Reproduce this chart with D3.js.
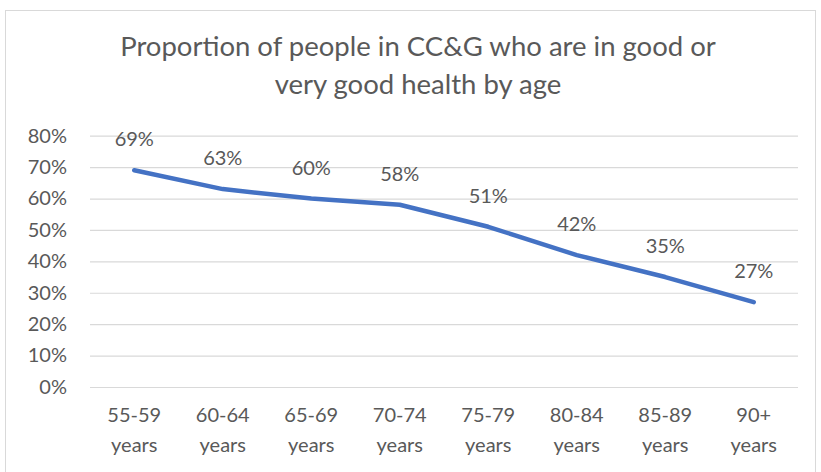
<!DOCTYPE html>
<html><head><meta charset="utf-8">
<script src="https://cdn.jsdelivr.net/npm/d3@7/dist/d3.min.js"></script>
<style>body{margin:0;background:#fff}svg{display:block}</style>
</head><body>
<script>
const categories = ["55-59 years","60-64 years","65-69 years","70-74 years","75-79 years","80-84 years","85-89 years","90+ years"];
const values = [0.69,0.63,0.60,0.58,0.51,0.42,0.35,0.27];
const yTicks = [0,0.1,0.2,0.3,0.4,0.5,0.6,0.7,0.8];
const titleLines = ["Proportion of people in CC&G who are in good or","very good health by age"];

const W=821,H=472;
const font="Lato, 'Open Sans', sans-serif";
const txt="#595959";
const svg=d3.select("body").append("svg").attr("width",W).attr("height",H);
svg.append("rect").attr("x",5.5).attr("y",10.5).attr("width",810).attr("height",470)
  .attr("fill","#fff").attr("stroke","#d9d9d9");

const x=d3.scaleBand().domain(categories).range([90,798]);
const y=d3.scaleLinear().domain([0,0.8]).range([387,135.7]);

svg.append("g").selectAll("text").data(titleLines).join("text")
  .attr("x",418).attr("y",(d,i)=>56+i*38).attr("text-anchor","middle")
  .attr("font-family",font).attr("font-size",27.5).attr("fill",txt).text(d=>d);

const yAxis=svg.append("g").attr("transform","translate(90,0)")
  .call(d3.axisLeft(y).tickValues(yTicks).tickFormat(d3.format(".0%")).tickSize(-(798-90)).tickPadding(23));
yAxis.select(".domain").remove();
yAxis.selectAll(".tick line").attr("stroke","#d9d9d9").attr("stroke-width",1.2);
yAxis.selectAll(".tick text").attr("font-family",font).attr("font-size",20).attr("fill",txt);

const xAxis=svg.append("g").attr("transform","translate(0,387)")
  .call(d3.axisBottom(x).tickSize(0).tickFormat(""));
xAxis.select(".domain").remove();
xAxis.selectAll(".tick").each(function(d){
  const parts=d.split(" ");
  const t=d3.select(this).append("text").attr("font-family",font).attr("font-size",20)
    .attr("fill",txt).attr("text-anchor","middle");
  parts.forEach((p,i)=>t.append("tspan").attr("x",0).attr("y",35+i*30).text(p));
});

const pts=categories.map((c,i)=>[x(c)+x.bandwidth()/2,y(values[i])]);
svg.append("path").attr("d",d3.line()(pts)).attr("fill","none")
  .attr("stroke","#4472C4").attr("stroke-width",4.5).attr("stroke-linecap","round").attr("stroke-linejoin","round");

svg.append("g").selectAll("text").data(values).join("text")
  .attr("x",(d,i)=>pts[i][0]).attr("y",(d,i)=>pts[i][1]-24).attr("text-anchor","middle")
  .attr("font-family",font).attr("font-size",20).attr("fill",txt).text(d=>d3.format(".0%")(d));
</script>
</body></html>
